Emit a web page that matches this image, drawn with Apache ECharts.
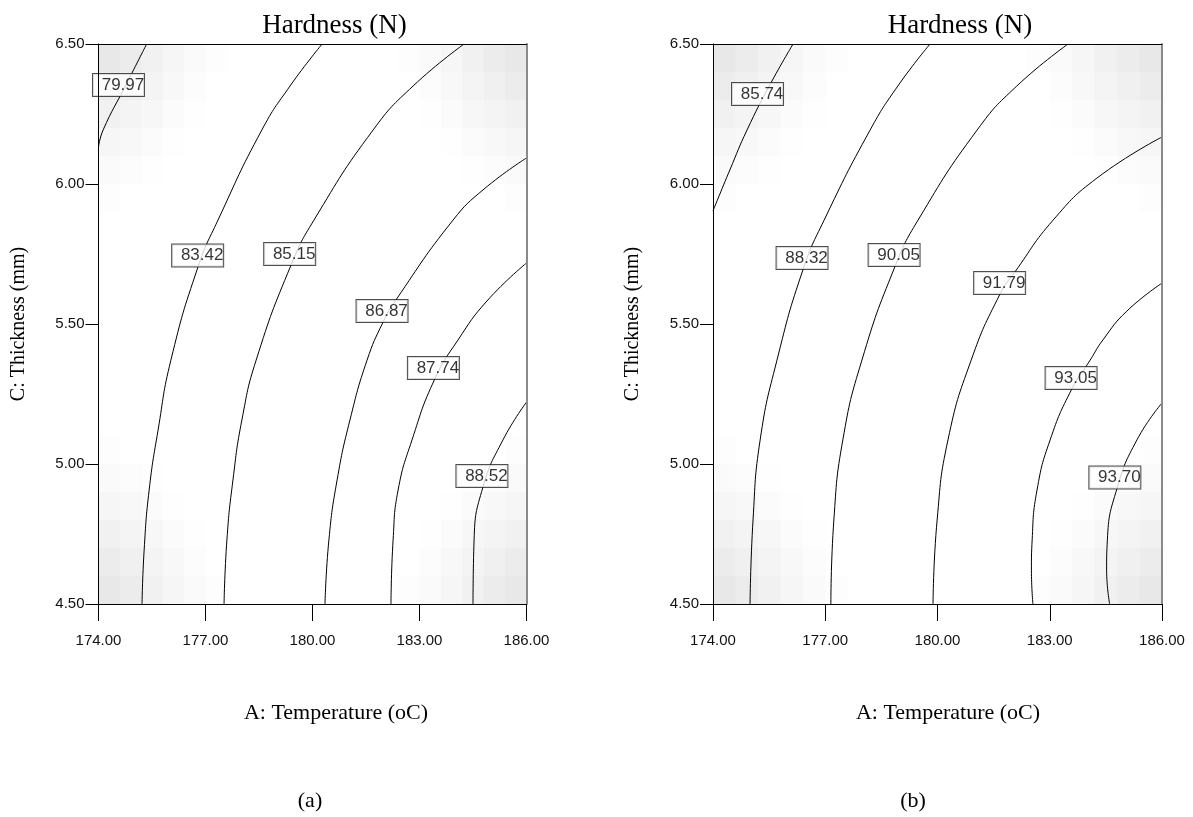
<!DOCTYPE html>
<html>
<head>
<meta charset="utf-8">
<script src="https://cdn.jsdelivr.net/npm/echarts@6/dist/echarts.min.js"></script>
<style>
  html, body { margin: 0; padding: 0; background: #fff; }
  #chart { width: 1193px; height: 817px; }
</style>
</head>
<body>
<div id="chart"></div>
<script>
// Axis ranges and ticks (A: temperature, C: thickness)
const tempMin = 174, tempMax = 186, tempStep = 3;
const thickMin = 4.5, thickMax = 6.5, thickStep = 0.5;

// Contour levels, panel (a)
const levelsA = ['79.97', '83.42', '85.15', '86.87', '87.74', '88.52'];
// Contour paths, panel (a): [temperature, thickness]
const a7997 = [[175.35, 6.500], [174.77, 6.354], [174.13, 6.193], [174.00, 6.132]];
const a8342 = [[180.27, 6.500], [179.37, 6.350], [178.58, 6.193], [177.35, 5.871], [176.79, 5.704], [176.03, 5.371], [175.67, 5.121], [175.42, 4.907], [175.28, 4.693], [175.22, 4.500]];
const a8515 = [[184.25, 6.500], [182.82, 6.350], [181.70, 6.193], [180.04, 5.871], [179.40, 5.711], [178.42, 5.371], [178.02, 5.157], [177.77, 4.943], [177.60, 4.729], [177.52, 4.500]];
const a8687 = [[186.00, 6.093], [184.81, 5.982], [183.94, 5.871], [182.34, 5.586], [181.98, 5.507], [181.53, 5.371], [181.05, 5.157], [180.69, 4.943], [180.46, 4.729], [180.35, 4.500]];
const a8774 = [[186.00, 5.718], [184.89, 5.582], [184.08, 5.443], [183.43, 5.304], [182.79, 5.086], [182.40, 4.907], [182.26, 4.729], [182.20, 4.500]];
const a8852 = [[186.00, 5.221], [185.34, 5.086], [184.78, 4.918], [184.53, 4.729], [184.50, 4.500]];
// Contour label anchors, panel (a)
const labelPosA = [[174.56, 6.354], [176.78, 5.745], [179.36, 5.750], [181.95, 5.546], [183.39, 5.343], [184.75, 4.957]];

// Contour levels, panel (b)
const levelsB = ['85.74', '88.32', '90.05', '91.79', '93.05', '93.70'];
const b8574 = [[176.14, 6.500], [175.52, 6.354], [174.91, 6.193], [174.45, 6.050], [174.00, 5.904]];
const b8832 = [[179.80, 6.500], [178.94, 6.350], [178.20, 6.193], [176.97, 5.871], [176.41, 5.696], [175.71, 5.371], [175.26, 5.086], [175.07, 4.800], [174.99, 4.500]];
const b9005 = [[183.49, 6.500], [182.12, 6.350], [181.06, 6.193], [179.48, 5.871], [178.86, 5.704], [177.98, 5.371], [177.47, 5.086], [177.23, 4.800], [177.15, 4.500]];
const b9179 = [[186.00, 6.168], [184.26, 6.021], [183.09, 5.871], [182.07, 5.686], [181.67, 5.607], [180.90, 5.371], [180.28, 5.086], [179.99, 4.800], [179.88, 4.500]];
const b9305 = [[186.00, 5.646], [185.06, 5.546], [184.42, 5.443], [184.08, 5.371], [183.59, 5.268], [183.01, 5.086], [182.66, 4.907], [182.53, 4.729], [182.51, 4.621], [182.55, 4.500]];
const b9370 = [[186.00, 5.218], [185.33, 5.086], [184.80, 4.914], [184.54, 4.729], [184.52, 4.621], [184.60, 4.500]];
const labelPosB = [[175.19, 6.321], [176.38, 5.736], [178.84, 5.746], [181.66, 5.646], [183.57, 5.307], [184.74, 4.952]];

// Standard-error shading near a corner (grey level, rows from the edge inward)
const cornerShade = [
  [232, 236, 241, 246, 250, 253],
  [236, 240, 244, 248, 252, 255],
  [241, 244, 247, 251, 254, 255],
  [246, 248, 251, 254, 255, 255],
  [250, 252, 254, 255, 255, 255],
  [253, 255, 255, 255, 255, 255]
];
const shadeCols = 20, shadeRows = 20;

const cellW = (tempMax - tempMin) / shadeCols;
const cellH = (thickMax - thickMin) / shadeRows;

function buildShadeCells() {
  const cells = [];
  for (let r = 0; r < shadeRows; r++) {
    for (let c = 0; c < shadeCols; c++) {
      const ri = Math.min(r, shadeRows - 1 - r);
      const ci = Math.min(c, shadeCols - 1 - c);
      const g = (cornerShade[ri] && cornerShade[ri][ci] !== undefined) ? cornerShade[ri][ci] : 255;
      if (g < 255) {
        cells.push([tempMin + c * cellW, thickMax - (r + 1) * cellH, g]);
      }
    }
  }
  return cells;
}
const shadeCells = buildShadeCells();

function renderCell(params, api) {
  const x0 = api.value(0), y0 = api.value(1), g = api.value(2);
  const p0 = api.coord([x0, y0 + cellH]);
  const p1 = api.coord([x0 + cellW, y0]);
  return {
    type: 'rect',
    shape: { x: p0[0], y: p0[1], width: p1[0] - p0[0] + 0.6, height: p1[1] - p0[1] + 0.6 },
    style: { fill: 'rgb(' + g + ',' + g + ',' + g + ')' }
  };
}

const tickFont = { fontFamily: 'Liberation Sans', fontSize: 15, color: '#111' };
const serif = 'Liberation Serif';

function axesFor(gi, nameShift) {
  return {
    x: [
      {
        gridIndex: gi, type: 'value', min: tempMin, max: tempMax, interval: tempStep,
        position: 'bottom', z: 10,
        axisLine: { lineStyle: { color: '#000', width: 1 } },
        axisTick: { length: 17, lineStyle: { color: '#000' } },
        axisLabel: Object.assign({ margin: 29, formatter: v => v.toFixed(2) }, tickFont),
        splitLine: { show: false },
        name: 'A: Temperature (oC)', nameLocation: 'middle', nameGap: 98,
        nameTextStyle: { fontFamily: serif, fontSize: 22, color: '#000', padding: [0, 0, 0, nameShift] }
      },
      {
        gridIndex: gi, type: 'value', min: tempMin, max: tempMax, position: 'top', z: 10,
        axisLine: { lineStyle: { color: '#000', width: 1 } },
        axisTick: { show: false }, axisLabel: { show: false }, splitLine: { show: false }
      }
    ],
    y: [
      {
        gridIndex: gi, type: 'value', min: thickMin, max: thickMax, interval: thickStep,
        position: 'left', z: 10,
        axisLine: { lineStyle: { color: '#000', width: 1 } },
        axisTick: { length: 13, lineStyle: { color: '#000' } },
        axisLabel: Object.assign({ margin: 14, formatter: v => v.toFixed(2) }, tickFont),
        splitLine: { show: false },
        name: 'C: Thickness (mm)', nameLocation: 'middle', nameGap: 70,
        nameTextStyle: { fontFamily: serif, fontSize: 20, color: '#000' }
      },
      {
        gridIndex: gi, type: 'value', min: thickMin, max: thickMax, position: 'right', z: 10,
        axisLine: { lineStyle: { color: '#8a8a8a', width: 2 } },
        axisTick: { show: false }, axisLabel: { show: false }, splitLine: { show: false }
      }
    ]
  };
}

const axA = axesFor(0, 47);
const axB = axesFor(1, 21);

function contourSeries(data, xi, yi) {
  return {
    type: 'line', data: data, xAxisIndex: xi, yAxisIndex: yi,
    smooth: 0.5, symbol: 'none', silent: true, z: 3,
    lineStyle: { color: '#000', width: 1 }
  };
}

function labelSeries(pos, levels, xi, yi) {
  return {
    type: 'scatter', xAxisIndex: xi, yAxisIndex: yi, symbolSize: 0, silent: true, z: 5,
    data: pos.map((p, i) => [p[0], p[1], levels[i]]),
    label: {
      show: true, position: 'inside', formatter: p => p.value[2],
      fontFamily: 'Liberation Sans', fontSize: 17, color: '#000',
      backgroundColor: '#fff', borderColor: '#222', borderWidth: 1,
      width: 42, height: 19, lineHeight: 19, padding: [2, 0, 1, 9], align: 'center', verticalAlign: 'middle'
    }
  };
}

function shadeSeries(xi, yi) {
  return {
    type: 'custom', xAxisIndex: xi, yAxisIndex: yi, data: shadeCells, renderItem: renderCell,
    silent: true, z: 1, clip: true
  };
}

const titleStyle = { fontFamily: serif, fontSize: 27, fontWeight: 'normal', color: '#000' };
const panelStyle = { fontFamily: serif, fontSize: 22, fontWeight: 'normal', color: '#000' };

const option = {
  backgroundColor: '#fff',
  animation: false,
  title: [
    { text: 'Hardness (N)', left: 329.5, top: 7, textAlign: 'center', textStyle: titleStyle },
    { text: 'Hardness (N)', left: 955, top: 7, textAlign: 'center', textStyle: titleStyle },
    { text: '(a)', left: 305, top: 785, textAlign: 'center', textStyle: panelStyle },
    { text: '(b)', left: 908, top: 785, textAlign: 'center', textStyle: panelStyle }
  ],
  grid: [
    { left: 98.5, top: 44, width: 428, height: 560 },
    { left: 713, top: 44, width: 449, height: 560 }
  ],
  xAxis: axA.x.concat(axB.x),
  yAxis: axA.y.concat(axB.y),
  series: [
    shadeSeries(0, 0),
    shadeSeries(2, 2),
    contourSeries(a7997, 0, 0),
    contourSeries(a8342, 0, 0),
    contourSeries(a8515, 0, 0),
    contourSeries(a8687, 0, 0),
    contourSeries(a8774, 0, 0),
    contourSeries(a8852, 0, 0),
    contourSeries(b8574, 2, 2),
    contourSeries(b8832, 2, 2),
    contourSeries(b9005, 2, 2),
    contourSeries(b9179, 2, 2),
    contourSeries(b9305, 2, 2),
    contourSeries(b9370, 2, 2),
    labelSeries(labelPosA, levelsA, 0, 0),
    labelSeries(labelPosB, levelsB, 2, 2)
  ]
};

const chart = echarts.init(document.getElementById('chart'));
chart.setOption(option);
</script>
</body>
</html>
